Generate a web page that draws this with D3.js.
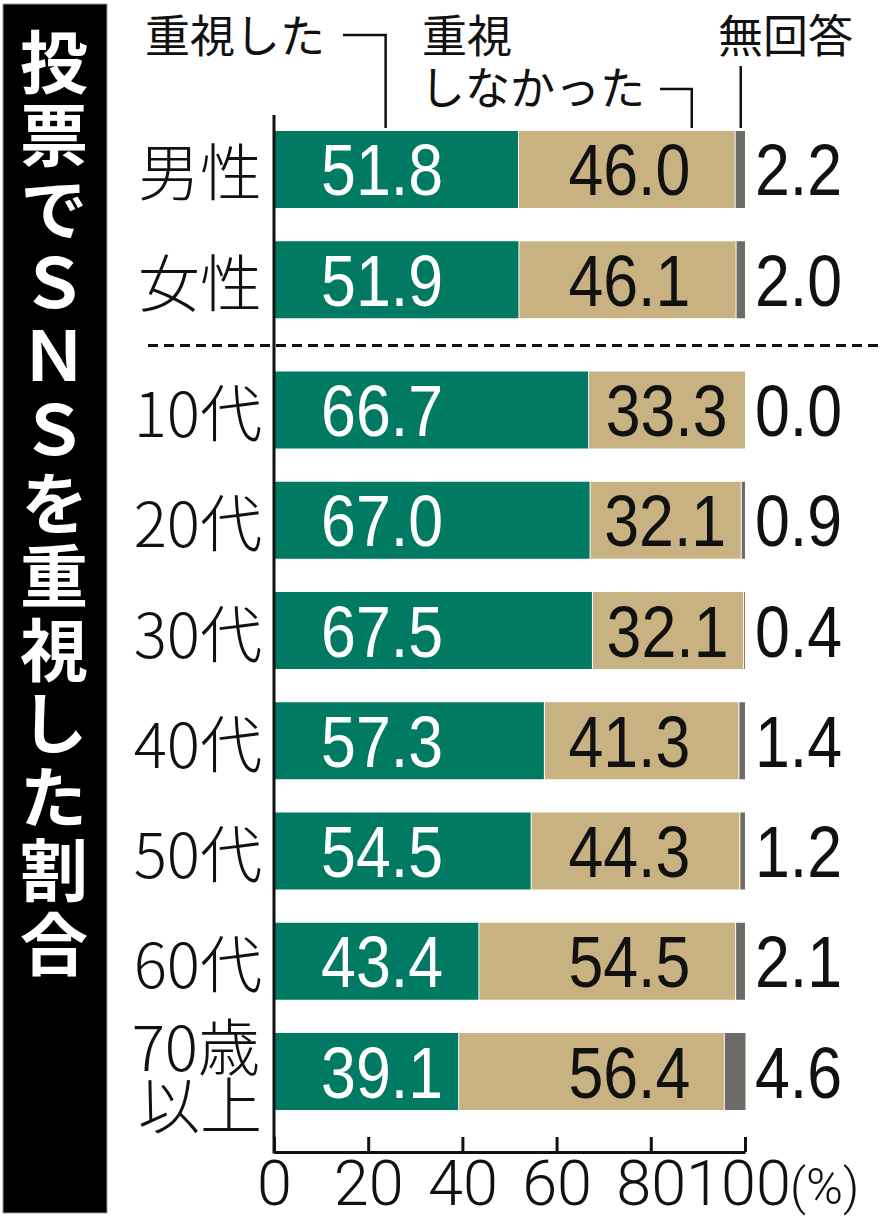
<!DOCTYPE html>
<html><head><meta charset="utf-8">
<script src="https://cdn.jsdelivr.net/npm/d3@7"></script>
<style>html,body{margin:0;padding:0;background:#fff;} svg{display:block}</style>
</head><body><svg id="c" width="887" height="1220"></svg>
<script>
// ---- data ----
const categories = ["男性","女性","10代","20代","30代","40代","50代","60代","70歳以上"];
const categoryLines = [["男性"],["女性"],["10代"],["20代"],["30代"],["40代"],["50代"],["60代"],["70歳","以上"]];
const groups = ["gender","gender","age","age","age","age","age","age","age"];
const valued    = [51.8, 51.9, 66.7, 67.0, 67.5, 57.3, 54.5, 43.4, 39.1];
const notValued = [46.0, 46.1, 33.3, 32.1, 32.1, 41.3, 44.3, 54.5, 56.4];
const noAnswer  = [2.2, 2.0, 0.0, 0.9, 0.4, 1.4, 1.2, 2.1, 4.6];
const xTicks = [0, 20, 40, 60, 80, 100];
const unitLabel = "(%)";
const seriesNames = ["重視した", "重視しなかった", "無回答"];
const titleText = "投票でＳＮＳを重視した割合";

// ---- styles ----
const colors = ["#007a62", "#c9b281", "#6e6a66"];
const jp = "'Noto Sans CJK JP','Noto Sans',sans-serif";
const num = "'Liberation Sans',Arial,sans-serif";
const tickFont = "Roboto,'Liberation Sans',sans-serif";
const numScale = 0.87;

const svg = d3.select("#c");
const x = d3.scaleLinear().domain([0, 100]).range([274, 745]);
const GAP = 20;
const y = d3.scaleBand().domain(categories).range([131, 1090]).paddingInner(0.3016).paddingOuter(0);
const bw = y.bandwidth();
const rowTop = i => y(categories[i]) + (groups[i] === "age" ? GAP : 0);
const rowMid = i => rowTop(i) + bw / 2;

// ---- title panel ----
svg.append("rect").attr("x", 3).attr("y", 4).attr("width", 104).attr("height", 1209)
  .attr("fill", "#000").attr("stroke", "#999").attr("stroke-width", 1);
svg.append("text")
  .attr("x", 54).attr("y", 28)
  .style("writing-mode", "vertical-rl")
  .style("text-orientation", "upright")
  .attr("fill", "#fff")
  .attr("font-weight", "bold")
  .attr("font-family", jp)
  .attr("font-size", 68)
  .attr("letter-spacing", 5.5)
  .text(titleText);

// ---- bars ----
const rows = categories.map((c, i) => {
  const a = valued[i], b = notValued[i], n = noAnswer[i];
  return { i, segs: [[0, a], [a, a + b], [a + b, a + b + n]] };
});
const rowG = svg.append("g").selectAll("g").data(rows).join("g");
rowG.selectAll("rect").data(r => r.segs.map((s, k) => ({ s, k, i: r.i }))).join("rect")
  .attr("x", d => x(d.s[0]) + (d.k > 0 ? 1 : 0))
  .attr("y", d => rowTop(d.i))
  .attr("width", d => Math.max(0, x(d.s[1]) - x(d.s[0]) - (d.k > 0 ? 1 : 0)))
  .attr("height", bw)
  .attr("fill", d => colors[d.k]);

// ---- value labels ----
function numText(g, tx, tyy, anchor, fill, str) {
  return g.append("text")
    .attr("transform", `translate(${tx},${tyy}) scale(${numScale},1)`)
    .attr("text-anchor", anchor)
    .attr("font-family", num).attr("font-size", 72)
    .attr("fill", fill).text(str);
}
const labG = svg.append("g");
rows.forEach(r => {
  const i = r.i, base = rowMid(i) + 26;
  numText(labG, x(10), base, "start", "#fff", valued[i].toFixed(1));
  const t = numText(labG, 0, base, "end", "#111", notValued[i].toFixed(1));
  const w = t.node().getComputedTextLength() * numScale;
  const endX = x(88.4);
  if (endX - w < x(valued[i]) + 14) {
    t.attr("text-anchor", "middle")
     .attr("transform", `translate(${x(valued[i] + notValued[i] / 2)},${base}) scale(${numScale},1)`);
  } else {
    t.attr("transform", `translate(${endX},${base}) scale(${numScale},1)`);
  }
  numText(labG, 755, base, "start", "#111", noAnswer[i].toFixed(1));
});

// ---- category labels ----
const catG = svg.append("g");
categoryLines.forEach((lines, i) => {
  const t = catG.append("text").attr("text-anchor", "end")
    .attr("font-family", jp).attr("font-weight", 300).attr("font-size", 62).attr("fill", "#111");
  if (lines.length === 1) {
    t.append("tspan").attr("x", 262).attr("y", rowMid(i) + 27).text(lines[0]);
  } else {
    t.append("tspan").attr("x", 260).attr("y", rowMid(i) - 1).text(lines[0]);
    t.append("tspan").attr("x", 262).attr("y", rowMid(i) + 57).text(lines[1]);
  }
});

// ---- separator ----
const sepY = Math.round((rowTop(1) + bw + rowTop(2)) / 2) + 0.5;
svg.append("line").attr("x1", 148).attr("x2", 880).attr("y1", sepY).attr("y2", sepY)
  .attr("stroke", "#111").attr("stroke-width", 3).attr("stroke-dasharray", "10,6");

// ---- axes ----
svg.append("line").attr("x1", x(0)).attr("x2", x(0)).attr("y1", 115).attr("y2", 1153.5)
  .attr("stroke", "#111").attr("stroke-width", 3);
const axis = d3.axisBottom(x).tickValues(xTicks).tickSize(-15).tickSizeOuter(0).tickFormat(d3.format("d"));
const ag = svg.append("g").attr("transform", "translate(0,1152)").call(axis);
ag.select(".domain").attr("stroke", "#111").attr("stroke-width", 3);
ag.selectAll(".tick line").attr("stroke", "#111").attr("stroke-width", 3);
ag.selectAll(".tick text")
  .attr("y", 53).attr("dy", 0)
  .attr("dx", d => d === 100 ? -7 : 0)
  .attr("font-family", tickFont).attr("font-weight", 300).attr("font-size", 63).attr("fill", "#111");
svg.append("text").attr("x", 790).attr("y", 1204)
  .attr("font-family", tickFont).attr("font-weight", 300).attr("font-size", 50).attr("fill", "#111")
  .text(unitLabel);

// ---- legend ----
const lg = svg.append("g").attr("font-family", jp).attr("font-size", 45).attr("fill", "#111");
lg.append("text").attr("x", 145).attr("y", 52.5).text(seriesNames[0]);
const lg2 = lg.append("text");
lg2.append("tspan").attr("x", 422).attr("y", 52.5).text(seriesNames[1].slice(0, 2));
lg2.append("tspan").attr("x", 420).attr("y", 105).text(seriesNames[1].slice(2));
lg.append("text").attr("x", 718).attr("y", 52.5).text(seriesNames[2]);
const barTop = rowTop(0) - 3;
const conn = svg.append("g").attr("fill", "none").attr("stroke", "#111").attr("stroke-width", 2.5);
conn.append("path").attr("d", `M343,35H${x(23.7)}V${barTop}`);
conn.append("path").attr("d", `M660,89H${x(88.7)}V${barTop}`);
conn.append("path").attr("d", `M${x(99.1)},66V${barTop}`);
</script>
</body></html>
